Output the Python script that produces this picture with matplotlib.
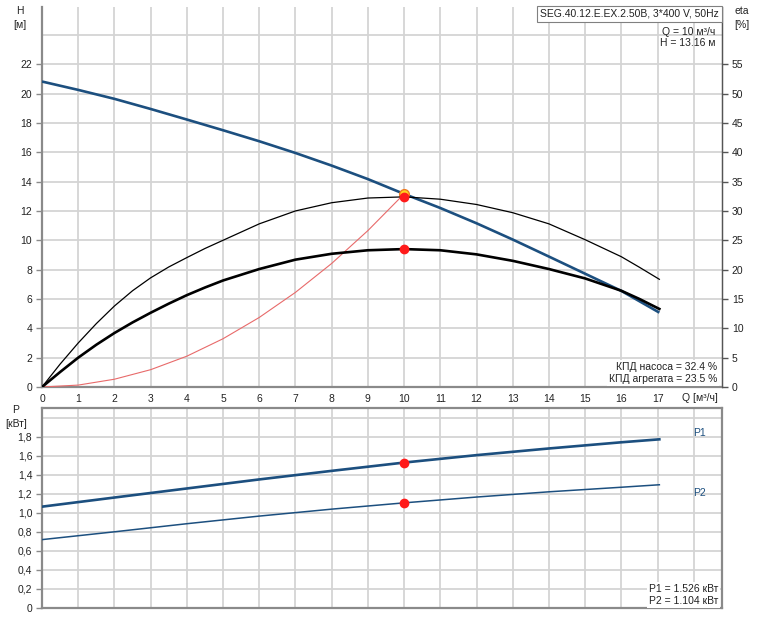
import matplotlib
matplotlib.use('Agg')
import matplotlib.pyplot as plt

plt.rcParams['font.family'] = ['Liberation Sans', 'DejaVu Sans']

# ---------------- data ----------------
q_h = [0, 1, 2, 3, 4, 5, 6, 7, 8, 9, 10, 11, 12, 13, 14, 15, 16, 17.05]
head = [20.82, 20.25, 19.64, 18.95, 18.23, 17.5, 16.75, 15.95, 15.09, 14.17,
        13.16, 12.2, 11.16, 10.05, 8.89, 7.72, 6.55, 5.07]

q_eta = [0, 0.5, 1, 1.5, 2, 2.5, 3, 3.5, 4, 4.5, 5, 6, 7, 8, 9, 10,
         11, 12, 13, 14, 15, 16, 16.5, 17.05]
eta_pump = [0, 3.9, 7.5, 10.8, 13.8, 16.4, 18.6, 20.45, 22.05, 23.6, 25.0, 27.8,
            30.0, 31.4, 32.2, 32.4, 32.0, 31.1, 29.7, 27.8, 25.1, 22.2, 20.4, 18.35]
eta_unit = [0, 2.55, 5.0, 7.2, 9.2, 11.0, 12.65, 14.2, 15.65, 16.95, 18.15, 20.1,
            21.7, 22.7, 23.3, 23.5, 23.3, 22.6, 21.5, 20.1, 18.5, 16.4, 15.0, 13.3]

q_sys = [0, 1, 2, 3, 4, 5, 6, 7, 8, 9, 10]
h_sys = [0, 0.13, 0.53, 1.18, 2.1, 3.29, 4.74, 6.45, 8.42, 10.66, 13.16]

q_p = [0, 2, 4, 6, 8, 10, 12, 14, 16, 17.05]
p1 = [1.064, 1.16, 1.255, 1.35, 1.44, 1.527, 1.605, 1.675, 1.74, 1.771]
p2 = [0.718, 0.80, 0.885, 0.965, 1.038, 1.104, 1.165, 1.22, 1.268, 1.294]

duty_q = 10
duty_h = 13.16
duty_eta_pump = 32.4
duty_eta_unit = 23.5
duty_p1 = 1.526
duty_p2 = 1.104

x_ticks = list(range(0, 18))
h_ticks = list(range(0, 23, 2))
eta_ticks = list(range(0, 56, 5))
p_ticks = [0, 0.2, 0.4, 0.6, 0.8, 1.0, 1.2, 1.4, 1.6, 1.8]
p_tick_labels = ['0', '0,2', '0,4', '0,6', '0,8', '1,0', '1,2', '1,4', '1,6', '1,8']

# ---------------- style ----------------
W, H = 760, 620
BLUE = '#1c4f7f'
GRID = '#d4d4d4'
SPINE = '#8a8a8a'
TXT = '#222222'
FS = 7.5

fig = plt.figure(figsize=(W / 100, H / 100), dpi=100)
fig.patch.set_facecolor('white')


def fx(px):
    return px / W


def fy(py):
    return 1 - py / H


ax = fig.add_axes([fx(42), fy(387), fx(722) - fx(42), fy(7) - fy(387)])
axp = fig.add_axes([fx(42), fy(608), fx(722) - fx(42), fy(408) - fy(608)])

XMAX = 18.78
HMAX = 25.9
PMAX = 2.1

for a in (ax, axp):
    a.set_xlim(0, XMAX)
    a.set_axisbelow(True)
    for x in range(0, 19):
        a.axvline(x, color=GRID, lw=1.3, zorder=0)

# ---- top axes ----
ax.set_ylim(0, HMAX)
for y in range(2, 25, 2):
    ax.axhline(y, color=GRID, lw=1.3, zorder=0)
ax.set_xticks(x_ticks)
ax.set_xticklabels([str(v) for v in x_ticks])
ax.set_yticks(h_ticks)
ax.set_yticklabels([str(v) for v in h_ticks])
ax.tick_params(axis='x', length=0, pad=5, labelsize=FS, colors=TXT)
ax.tick_params(axis='y', length=4, width=1, color=SPINE, pad=3, labelsize=FS, labelcolor=TXT)
ax.spines['top'].set_visible(False)
ax.spines['left'].set_color(SPINE)
ax.spines['left'].set_linewidth(1.6)
ax.spines['bottom'].set_color(SPINE)
ax.spines['bottom'].set_linewidth(1.6)
ax.spines['right'].set_color('#555555')
ax.spines['right'].set_linewidth(0.9)

ax.plot(q_sys, h_sys, color='#e86a6a', lw=0.8, zorder=3)
ax.plot(q_h, head, color=BLUE, lw=1.9, zorder=4, solid_capstyle='butt')
ax.plot([duty_q], [duty_h], 'o', ms=7, mfc='#ffd21f', mec='#f07a20', mew=1, zorder=6)

ax2 = ax.twinx()
ax2.set_ylim(0, HMAX * 2.5)
ax2.set_yticks(eta_ticks)
ax2.set_yticklabels([str(v) for v in eta_ticks])
ax2.tick_params(axis='y', length=4, width=1, color='#555555', pad=3, labelsize=FS, labelcolor=TXT)
for s in ('top', 'left', 'bottom'):
    ax2.spines[s].set_visible(False)
ax2.spines['right'].set_color('#555555')
ax2.spines['right'].set_linewidth(0.9)
ax2.plot(q_eta, eta_pump, color='black', lw=0.9, zorder=3)
ax2.plot(q_eta, eta_unit, color='black', lw=1.9, zorder=3)
ax2.plot([duty_q], [duty_eta_pump], 'o', ms=6, color='#ff1a1a', zorder=7)
ax2.plot([duty_q], [duty_eta_unit], 'o', ms=6, color='#ff1a1a', zorder=7)

# ---- bottom axes ----
axp.set_ylim(0, PMAX)
axp.axhline(2.0, color=GRID, lw=1.3, zorder=0)
for y in p_ticks[1:]:
    axp.axhline(y, color=GRID, lw=1.3, zorder=0)
axp.set_xticks([])
axp.set_yticks(p_ticks)
axp.set_yticklabels(p_tick_labels)
axp.tick_params(axis='y', length=4, width=1, color=SPINE, pad=3, labelsize=FS, labelcolor=TXT)
for s in axp.spines.values():
    s.set_color(SPINE)
    s.set_linewidth(1.6)
axp.plot(q_p, p1, color=BLUE, lw=1.9, zorder=4)
axp.plot(q_p, p2, color=BLUE, lw=1.1, zorder=4)
axp.plot([duty_q], [duty_p1], 'o', ms=6, color='#ff1a1a', zorder=6)
axp.plot([duty_q], [duty_p2], 'o', ms=6, color='#ff1a1a', zorder=6)

# ---- texts ----
fig.text(fx(20), fy(18), 'H\n[м]', ha='center', va='center', fontsize=FS, color=TXT, linespacing=1.5)
fig.text(fx(742), fy(18), 'eta\n[%]', ha='center', va='center', fontsize=FS, color=TXT, linespacing=1.5)
fig.text(fx(16), fy(417), 'P\n[кВт]', ha='center', va='center', fontsize=FS, color=TXT, linespacing=1.4)
fig.text(fx(682), fy(398), 'Q [м³/ч]', ha='left', va='center', fontsize=FS, color=TXT)

fig.text(fx(719), fy(14), 'SEG.40.12.E.EX.2.50B, 3*400 V, 50Hz', ha='right', va='center',
         fontsize=FS, color=TXT,
         bbox=dict(boxstyle='square,pad=0.3', fc='white', ec='#808080', lw=0.8))
fig.text(fx(715), fy(32), 'Q = 10 м³/ч', ha='right', va='center', fontsize=FS, color=TXT)
fig.text(fx(715), fy(43), 'H = 13.16 м', ha='right', va='center', fontsize=FS, color=TXT)

wb = dict(boxstyle='square,pad=0.15', fc='white', ec='none')
fig.text(fx(717), fy(367), 'КПД насоса = 32.4 %', ha='right', va='center', fontsize=FS, color=TXT, bbox=wb)
fig.text(fx(717), fy(379), 'КПД агрегата = 23.5 %', ha='right', va='center', fontsize=FS, color=TXT, bbox=wb)
fig.text(fx(718), fy(589), 'P1 = 1.526 кВт', ha='right', va='center', fontsize=FS, color=TXT, bbox=wb)
fig.text(fx(718), fy(601), 'P2 = 1.104 кВт', ha='right', va='center', fontsize=FS, color=TXT, bbox=wb)

fig.text(fx(693), fy(433), 'P1', ha='left', va='center', fontsize=FS, color=BLUE)
fig.text(fx(693), fy(493), 'P2', ha='left', va='center', fontsize=FS, color=BLUE)

fig.savefig('out.png', dpi=100, facecolor='white')
